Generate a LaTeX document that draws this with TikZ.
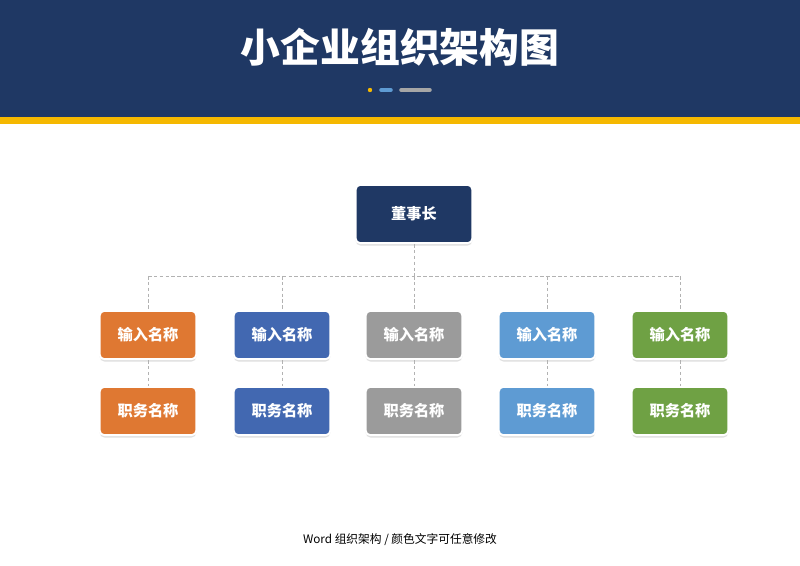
\documentclass[tikz,border=0pt]{standalone}
\usepackage{fontspec}
\newfontfamily\cjk{Noto Sans CJK SC}
\usetikzlibrary{positioning, shadows}
\definecolor{navy}{HTML}{1F3864}
\definecolor{gold}{HTML}{F5B800}
\definecolor{orangebox}{HTML}{DF7832}
\definecolor{bluebox}{HTML}{4268B1}
\definecolor{graybox}{HTML}{9B9B9B}
\definecolor{skybox}{HTML}{5E9BD3}
\definecolor{greenbox}{HTML}{6FA144}
\begin{document}
\begin{tikzpicture}[x=0.03cm,y=-0.03cm]
  \tikzset{
    unit/.style={draw=white,line width=1.6pt,rounded corners=4pt,
                 minimum width=2.9cm,minimum height=1.45cm,text=white,
                 font=\cjk\fontsize{13}{15}\selectfont\bfseries,
                 drop shadow={shadow xshift=0pt,shadow yshift=-2pt,opacity=0.25}},
    link/.style={gray!60,densely dashed,line width=0.6pt}
  }
  \useasboundingbox (0,0) rectangle (800,566);
  \fill[navy] (0,0) rectangle (800,117);
  \fill[gold] (0,117) rectangle (800,124);
  \node[text=white,font=\cjk\fontsize{34}{40}\selectfont\bfseries] (title) at (400,47) {小企业组织架构图};
  \fill[gold] (370,90) circle (2.2);
  \draw[skybox,line width=3pt,line cap=round] (381,90) -- (391,90);
  \draw[gray!70,line width=3pt,line cap=round] (401,90) -- (430,90);

  \node[unit,fill=navy,minimum width=3.5cm,minimum height=1.75cm] (boss) at (414,214) {董事长};
  \coordinate (hub) at (414,276);

  \foreach \x/\c/\n in {148/orangebox/a,282/bluebox/b,414/graybox/c,547/skybox/d,680/greenbox/e}{
    \coordinate (top\n) at (\x,276);
    \draw[link] (top\n) -- (\x,311);
    \node[unit,fill=\c] (in\n) at (\x,335) {输入名称};
    \node[unit,fill=\c] (job\n) at (\x,411) {职务名称};
    \draw[link] (in\n) -- (job\n);
  }
  \draw[link] (topa) -- (tope);
  \draw[link] (boss) -- (hub);

  \node[font=\cjk\fontsize{10}{12}\selectfont] (foot) at (400,540) {Word 组织架构 / 颜色文字可任意修改};
\end{tikzpicture}
\end{document}
